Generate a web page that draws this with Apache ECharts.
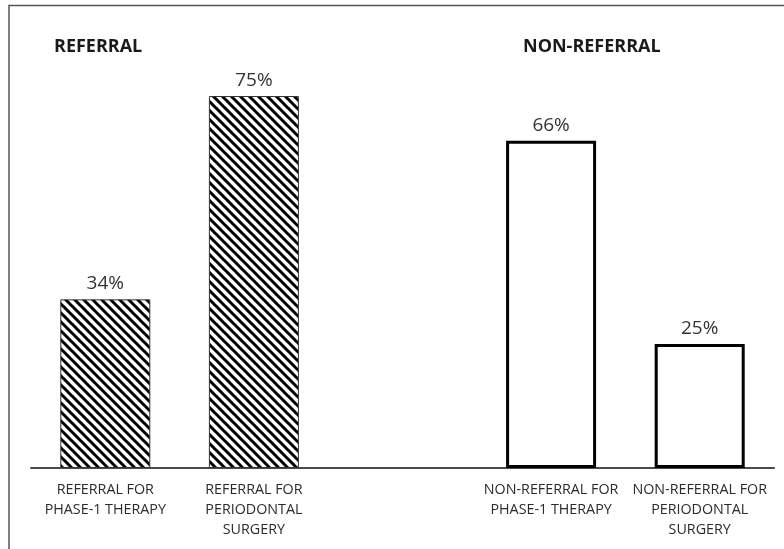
<!DOCTYPE html>
<html>
<head>
<meta charset="utf-8">
<script src="https://cdn.jsdelivr.net/npm/echarts@6/dist/echarts.min.js"></script>
<style>
  html, body { margin: 0; padding: 0; background: #fff; }
  #chart { width: 784px; height: 549px; }
</style>
</head>
<body>
<div id="chart"></div>
<script>
// Category slots (the empty slot separates the two groups)
const categories = [
  'REFERRAL FOR\nPHASE-1 THERAPY',
  'REFERRAL FOR\nPERIODONTAL\nSURGERY',
  '',
  'NON-REFERRAL FOR\nPHASE-1 THERAPY',
  'NON-REFERRAL FOR\nPERIODONTAL\nSURGERY'
];
const referralValues = [34, 75, '-', '-', '-'];
const nonReferralValues = ['-', '-', '-', 66, 25];
const groupTitles = ['REFERRAL', 'NON-REFERRAL'];

// Diagonal hatch tile for the referral bars
function hatchTile() {
  const s = 9;
  const c = document.createElement('canvas');
  c.width = s; c.height = s;
  const g = c.getContext('2d');
  g.fillStyle = '#fff';
  g.fillRect(0, 0, s, s);
  g.strokeStyle = '#000';
  g.lineWidth = 3;
  g.beginPath();
  g.moveTo(-2, -2); g.lineTo(s + 2, s + 2);
  g.moveTo(-2, s - 2); g.lineTo(2, s + 2);
  g.moveTo(s - 2, -2); g.lineTo(s + 2, 2);
  g.stroke();
  return c;
}

const chart = echarts.init(document.getElementById('chart'), null, { renderer: 'canvas' });

const labelStyle = {
  show: true,
  position: 'top',
  distance: 6,
  formatter: '{c}%',
  fontFamily: 'Open Sans',
  fontSize: 19,
  color: '#333'
};

const titleText = { fontFamily: 'Open Sans', fontWeight: 'bold', fontSize: 18, color: '#1a1a1a' };

chart.setOption({
  animation: false,
  backgroundColor: '#fff',
  title: [
    { text: groupTitles[0], left: 49, top: 33, textStyle: titleText },
    { text: groupTitles[1], left: 518, top: 33, textStyle: titleText }
  ],
  graphic: [
    { type: 'polyline', silent: true,
      shape: { points: [[9, 560], [9, 5.5], [790, 5.5]] },
      style: { stroke: '#555', lineWidth: 1.5, fill: null } }
  ],
  grid: { left: 31, right: 10, top: 71.2, bottom: 81, containLabel: false },
  xAxis: {
    type: 'category',
    data: categories,
    axisLine: { show: true, lineStyle: { color: '#4a4a4a', width: 2 } },
    axisTick: { show: false },
    axisLabel: {
      interval: 0,
      margin: 12,
      fontFamily: 'Open Sans',
      fontSize: 14.3,
      lineHeight: 20,
      color: '#2b2b2b'
    }
  },
  yAxis: {
    type: 'value',
    min: 0,
    max: 80,
    show: false,
    splitLine: { show: false }
  },
  series: [
    {
      name: 'Referral',
      type: 'bar',
      stack: 'all',
      barWidth: 90,
      data: referralValues,
      itemStyle: {
        color: { image: hatchTile(), repeat: 'repeat' },
        borderColor: '#333',
        borderWidth: 1
      },
      label: labelStyle
    },
    {
      name: 'Non-referral',
      type: 'bar',
      stack: 'all',
      barWidth: 89,
      data: nonReferralValues,
      itemStyle: {
        color: '#fff',
        borderColor: '#000',
        borderWidth: 3
      },
      label: labelStyle
    }
  ]
});
</script>
</body>
</html>
